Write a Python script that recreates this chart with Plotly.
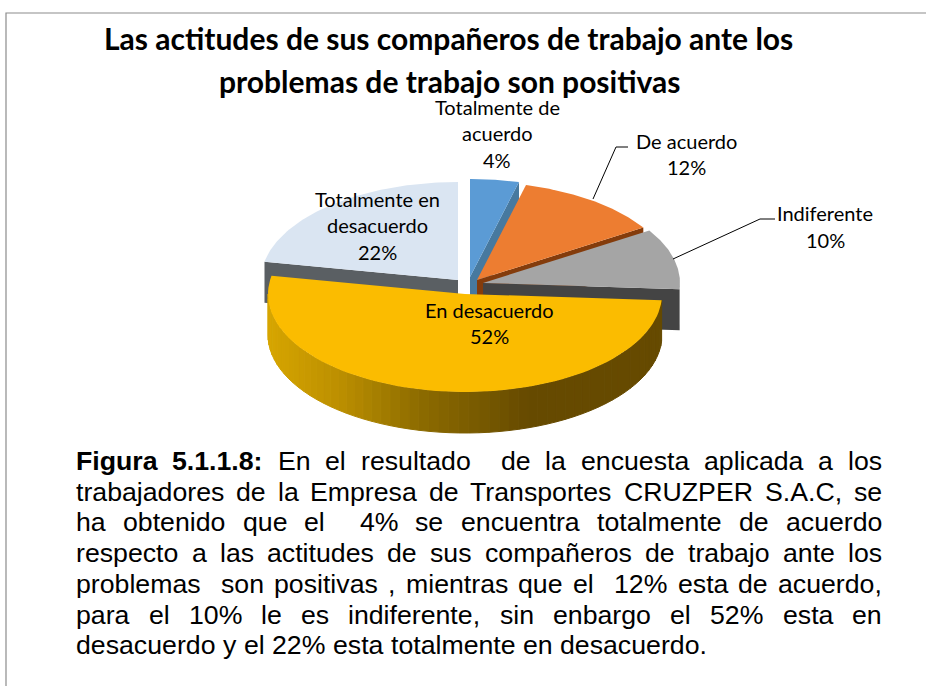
import numpy as np
import plotly.graph_objects as go

# ---- data ----
categories = ["Totalmente de acuerdo", "De acuerdo", "Indiferente", "En desacuerdo", "Totalmente en desacuerdo"]
values = [4, 12, 10, 52, 22]
top_colors = ["#5B9BD5", "#ED7D31", "#A5A5A5", "#FBBC00", "#DAE5F2"]
wall_colors = ["#47799F", "#843C0C", "#444444", "#D7A600", "#5A5F63"]

# ---- pie geometry (exploded slices, tilted view) ----
centers = [(470, 277), (477, 280), (483, 283), (465, 294), (458, 280)]
RX, RY, DEPTH = 197, 98, 41

title_lines = [("Las actitudes de sus compañeros de trabajo ante los", 448, 38),
               ("problemas de trabajo son positivas", 449, 81)]
label_lines = [
    (["Totalmente de", "acuerdo"], 497, [107, 133, 160]),
    (["De acuerdo"], 686, [141, 167]),
    (["Indiferente"], 825, [213, 240]),
    (["En desacuerdo"], 489, [310, 336]),
    (["Totalmente en", "desacuerdo"], 377, [199, 225, 252]),
]
leaders = [([593, 616, 628], [199, 147, 147]), ([673, 760, 775], [259, 219, 219])]

caption_bold = "Figura 5.1.1.8:"
caption_lines = [
    "Figura 5.1.1.8: En el resultado  de la encuesta aplicada a los",
    "trabajadores de la Empresa de Transportes CRUZPER S.A.C, se",
    "ha obtenido que el  4% se encuentra totalmente de acuerdo",
    "respecto a las actitudes de sus compañeros de trabajo ante los",
    "problemas  son positivas , mientras que el  12% esta de acuerdo,",
    "para el 10% le es indiferente, sin enbargo el 52% esta en",
    "desacuerdo y el 22% esta totalmente en desacuerdo.",
]
caption_y = [461, 491.5, 522, 553, 584, 615, 645]

TITLE_FONT = "Lato"
LABEL_FONT = "Lato"
BODY_FONT = "Liberation Sans"
BODY_SIZE = 26.7
LEFT, RIGHT = 74, 880

# Arial metrics (per 1000 em) used for justifying the caption
W = {**{c: 556 for c in "abdeghnopqu0123456789"}, **{c: 500 for c in "cksvxyz"},
     "f": 278, "i": 222, "j": 222, "l": 222, "m": 833, "r": 333, "t": 278, "w": 722, "ñ": 556,
     "A": 667, "C": 722, "E": 667, "F": 611, "J": 500, "P": 667, "R": 722, "S": 667, "T": 611,
     "U": 722, "Z": 611, ".": 278, ",": 278, ":": 278, "%": 889}
WB = {**W, "g": 611, "i": 278, "u": 611, "r": 389, ":": 333, "a": 556}


def width(word, bold=False):
    table = WB if bold else W
    return sum(table.get(c, 556) for c in word) * BODY_SIZE / 1000


fig = go.Figure()


def poly(xs, ys, color, line=0):
    fig.add_trace(go.Scatter(x=xs, y=ys, mode="lines", fill="toself", fillcolor=color,
                             line=dict(color=color, width=line), hoverinfo="skip", showlegend=False))


edges = np.cumsum([0] + values) / sum(values) * 2 * np.pi


def px(c, t):
    return c[0] + RX * np.sin(t), c[1] - RY * np.cos(t)


def cut_wall(c, t, color):
    x, y = px(c, t)
    poly([c[0], x, x, c[0], c[0]], [c[1], y, y + DEPTH, c[1] + DEPTH, c[1]], color)


def top(c, a, b, color):
    t = np.linspace(a, b, 80)
    x, y = px(c, t)
    poly([c[0], *x, c[0]], [c[1], *y, c[1]], color)


# back slices, painted from the back to the front
cut_wall(centers[0], edges[1], wall_colors[0])
top(centers[0], edges[0], edges[1], top_colors[0])
cut_wall(centers[1], edges[2], wall_colors[1])
top(centers[1], edges[1], edges[2], top_colors[1])
cut_wall(centers[2], edges[3], wall_colors[2])
top(centers[2], edges[2], edges[3], top_colors[2])
cut_wall(centers[4], edges[4], wall_colors[4])
top(centers[4], edges[4], edges[5], top_colors[4])

# front slice: shaded outer wall, then its top
c = centers[3]
stop_x = [268, 340, 420, 530, 662]
stop_rgb = np.array([[215, 166, 0], [188, 143, 0], [141, 108, 0], [102, 74, 0], [102, 74, 0]])
ts = np.linspace(edges[3], 1.5 * np.pi, 61)
for t0, t1 in zip(ts[:-1], ts[1:]):
    seg = np.linspace(t0, t1, 4)
    x, y = px(c, seg)
    xm = x.mean()
    rgb = [int(np.interp(xm, stop_x, stop_rgb[:, i])) for i in range(3)]
    col = f"rgb({rgb[0]},{rgb[1]},{rgb[2]})"
    poly([*x, *x[::-1], x[0]], [*y, *(y[::-1] + DEPTH), y[0]], col, 1)
top(c, edges[3], edges[4], top_colors[3])

# leader lines
for lx, ly in leaders:
    fig.add_trace(go.Scatter(x=lx, y=ly, mode="lines", line=dict(color="#000000", width=1),
                             hoverinfo="skip", showlegend=False))

# page frame
frame_x, frame_y = [6, 6, 926], [686, 13, 13]
fig.add_trace(go.Scatter(x=frame_x, y=frame_y, mode="lines", line=dict(color="#8C8C8C", width=1.2),
                         hoverinfo="skip", showlegend=False))

ann = []


def text(s, x, y, font, size, color="#000000", bold=False, anchor="center"):
    ann.append(dict(text=f"<b>{s}</b>" if bold else s, x=x, y=y, xref="x", yref="y", showarrow=False,
                    xanchor=anchor, yanchor="middle", align=anchor,
                    font=dict(family=font, size=size, color=color)))


for s, x, y in title_lines:
    text(s, x, y, TITLE_FONT, 30, bold=True)

for (lines, x, ys), v in zip(label_lines, values):
    for s, y in zip(lines + [f"{v}%"], ys):
        text(s, x, y, LABEL_FONT, 20, color="#000000")

# caption: justified word by word, last line left as set
for i, (line, y) in enumerate(zip(caption_lines, caption_y)):
    tokens = line.split(" ")
    nb = len(caption_bold.split(" "))
    bolds = [i == 0 and k < nb for k in range(len(tokens))]
    natural = sum(width(t, b) for t, b in zip(tokens, bolds))
    gap = 278 * BODY_SIZE / 1000 if i == len(caption_lines) - 1 else (RIGHT - LEFT - natural) / (len(tokens) - 1)
    x = LEFT
    for t, b in zip(tokens, bolds):
        if t:
            text(t, x, y, BODY_FONT, BODY_SIZE, color="#000000", bold=b, anchor="left")
        x += width(t, b) + gap

fig.update_layout(
    width=926, height=686, margin=dict(l=0, r=0, t=0, b=0),
    paper_bgcolor="#FFFFFF", plot_bgcolor="#FFFFFF", showlegend=False,
    xaxis=dict(range=[0, 926], visible=False, fixedrange=True),
    yaxis=dict(range=[686, 0], visible=False, fixedrange=True),
    annotations=ann,
)
fig.write_html("out.html", config={"displayModeBar": False},
               post_script="document.body.style.margin='0';document.body.style.overflow='hidden';")
